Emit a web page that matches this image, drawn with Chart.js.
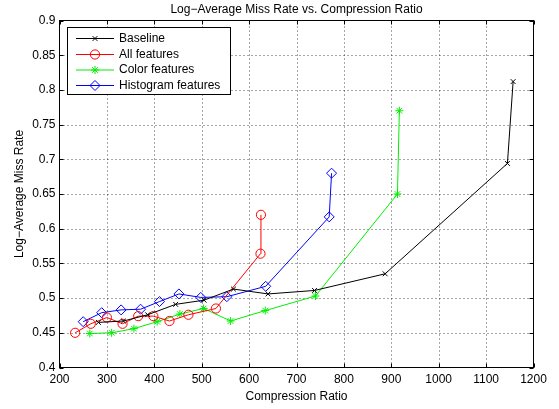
<!DOCTYPE html>
<html>
<head>
<meta charset="utf-8">
<script src="https://cdn.jsdelivr.net/npm/chart.js@4/dist/chart.umd.min.js"></script>
<style>
  html, body { margin: 0; padding: 0; background: #fff; }
  #wrap { width: 559px; height: 409px; }
</style>
</head>
<body>
<div id="wrap"><canvas id="missChart" width="559" height="409"></canvas></div>
<script>
// === Data ===
const baselineX = [282, 335, 386, 445, 505, 567, 640, 738, 887, 1145, 1157];
const baselineY = [0.465, 0.467, 0.476, 0.491, 0.497, 0.513, 0.506, 0.511, 0.535, 0.694, 0.812];

const allX = [233, 266, 300, 333, 366, 398, 432, 472, 530, 624, 625];
const allY = [0.450, 0.463, 0.472, 0.463, 0.474, 0.474, 0.467, 0.476, 0.485, 0.564, 0.620];

const colorX = [264, 310, 357, 406, 454, 504, 561, 634, 740, 913, 917];
const colorY = [0.449, 0.450, 0.456, 0.466, 0.477, 0.485, 0.467, 0.482, 0.503, 0.650, 0.770];

const histX = [250, 289, 330, 371, 411, 452, 498, 553, 635, 769, 774];
const histY = [0.466, 0.479, 0.483, 0.484, 0.495, 0.506, 0.501, 0.502, 0.517, 0.617, 0.680];

const xTicks = [200, 300, 400, 500, 600, 700, 800, 900, 1000, 1100, 1200];
const yTicks = [0.4, 0.45, 0.5, 0.55, 0.6, 0.65, 0.7, 0.75, 0.8, 0.85, 0.9];

const seriesNames = ['Baseline', 'All features', 'Color features', 'Histogram features'];

const FONT = 'Liberation Sans, Arial, Helvetica, sans-serif';

function toPoints(xs, ys) {
    return xs.map((x, i) => ({ x: x, y: ys[i] }));
}

const styles = [
    { color: '#000000', pointStyle: 'crossRot', radius: 3.4 },
    { color: '#ff0000', pointStyle: 'circle', radius: 4.6 },
    { color: '#00ee00', pointStyle: 'star', radius: 4 },
    { color: '#0000ff', pointStyle: 'rectRot', radius: 5 }
];

const seriesData = [
    toPoints(baselineX, baselineY),
    toPoints(allX, allY),
    toPoints(colorX, colorY),
    toPoints(histX, histY)
];

const datasets = seriesNames.map((name, i) => ({
    label: name,
    data: seriesData[i],
    borderColor: styles[i].color,
    backgroundColor: 'rgba(0,0,0,0)',
    borderWidth: 1,
    pointStyle: styles[i].pointStyle,
    pointRadius: styles[i].radius,
    pointBorderColor: styles[i].color,
    pointBackgroundColor: 'rgba(0,0,0,0)',
    pointBorderWidth: 1,
    showLine: true,
    tension: 0
}));

// dotted grid drawn under the lines
const dottedGrid = {
    id: 'dottedGrid',
    beforeDatasetsDraw(chart) {
        const ctx = chart.ctx;
        const a = chart.chartArea;
        const xs = chart.scales.x;
        const ys = chart.scales.y;
        ctx.save();
        ctx.strokeStyle = 'rgba(0,0,0,0.7)';
        ctx.lineWidth = 1;
        ctx.setLineDash([1, 3]);
        ctx.beginPath();
        xTicks.slice(1, -1).forEach(v => {
            const px = Math.round(xs.getPixelForValue(v)) + 0.5;
            ctx.moveTo(px, a.bottom); ctx.lineTo(px, a.top);
        });
        yTicks.slice(1, -1).forEach(v => {
            const py = Math.round(ys.getPixelForValue(v)) + 0.5;
            ctx.moveTo(a.left, py); ctx.lineTo(a.right, py);
        });
        ctx.stroke();
        ctx.restore();
    }
};

// box, inward ticks, titles and the in-plot legend, MATLAB style
const matlabFrame = {
    id: 'matlabFrame',
    afterDatasetsDraw(chart) {
        const ctx = chart.ctx;
        const a = chart.chartArea;
        const xs = chart.scales.x;
        const ys = chart.scales.y;
        ctx.save();
        ctx.strokeStyle = '#000';
        ctx.lineWidth = 1;
        ctx.setLineDash([]);
        ctx.strokeRect(a.left, a.top, a.right - a.left, a.bottom - a.top);

        const tl = 4;
        ctx.beginPath();
        xTicks.forEach(v => {
            const px = Math.round(xs.getPixelForValue(v)) + 0.5;
            ctx.moveTo(px, a.bottom); ctx.lineTo(px, a.bottom - tl);
            ctx.moveTo(px, a.top); ctx.lineTo(px, a.top + tl);
        });
        yTicks.forEach(v => {
            const py = Math.round(ys.getPixelForValue(v)) + 0.5;
            ctx.moveTo(a.left, py); ctx.lineTo(a.left + tl, py);
            ctx.moveTo(a.right, py); ctx.lineTo(a.right - tl, py);
        });
        ctx.stroke();

        // titles
        ctx.fillStyle = '#000';
        ctx.font = '12px ' + FONT;
        ctx.textAlign = 'center';
        ctx.textBaseline = 'middle';
        ctx.fillText('Log\u2212Average Miss Rate vs. Compression Ratio', (a.left + a.right) / 2, 10);
        ctx.fillText('Compression Ratio', (a.left + a.right) / 2, 397);
        ctx.save();
        ctx.translate(20, (a.top + a.bottom) / 2);
        ctx.rotate(-Math.PI / 2);
        ctx.fillText('Log\u2212Average Miss Rate', 0, 0);
        ctx.restore();

        // legend
        const lx = 67.5, ly = 27.5, lw = 163, lh = 67;
        ctx.fillStyle = '#fff';
        ctx.fillRect(lx, ly, lw, lh);
        ctx.strokeStyle = '#000';
        ctx.strokeRect(lx, ly, lw, lh);
        const rowY = [38.5, 54.5, 70, 85.5];
        seriesNames.forEach((name, i) => {
            const y = rowY[i];
            ctx.strokeStyle = styles[i].color;
            ctx.lineWidth = 1;
            ctx.beginPath();
            ctx.moveTo(76, y); ctx.lineTo(114, y);
            ctx.stroke();
            ctx.fillStyle = 'rgba(0,0,0,0)';
            Chart.helpers.drawPoint(ctx, {
                pointStyle: styles[i].pointStyle,
                radius: styles[i].radius,
                rotation: 0,
                borderWidth: 1
            }, 95, y);
            ctx.fillStyle = '#000';
            ctx.textAlign = 'left';
            ctx.fillText(name, 119, y);
        });
        ctx.restore();
    }
};

new Chart(document.getElementById('missChart').getContext('2d'), {
    type: 'scatter',
    data: { datasets: datasets },
    options: {
        responsive: false,
        animation: false,
        devicePixelRatio: 1,
        layout: { padding: { top: 20.5, right: 25.5, left: 0, bottom: 0 } },
        plugins: {
            legend: { display: false },
            tooltip: { enabled: false },
            title: { display: false }
        },
        scales: {
            x: {
                type: 'linear',
                min: 200,
                max: 1200,
                afterFit: s => { s.height = 41.5; },
                afterBuildTicks: s => { s.ticks = xTicks.map(v => ({ value: v })); },
                grid: { drawOnChartArea: false, drawTicks: false },
                border: { display: false },
                ticks: {
                    color: '#000',
                    padding: 5,
                    maxRotation: 0,
                    autoSkip: false,
                    font: { family: FONT, size: 12 },
                    callback: v => String(v)
                }
            },
            y: {
                type: 'linear',
                min: 0.4,
                max: 0.9,
                afterFit: s => { s.width = 59.5; },
                afterBuildTicks: s => { s.ticks = yTicks.map(v => ({ value: v })); },
                grid: { drawOnChartArea: false, drawTicks: false },
                border: { display: false },
                ticks: {
                    color: '#000',
                    padding: 4,
                    autoSkip: false,
                    font: { family: FONT, size: 12 },
                    callback: v => String(v)
                }
            }
        }
    },
    plugins: [dottedGrid, matlabFrame]
});
</script>
</body>
</html>
